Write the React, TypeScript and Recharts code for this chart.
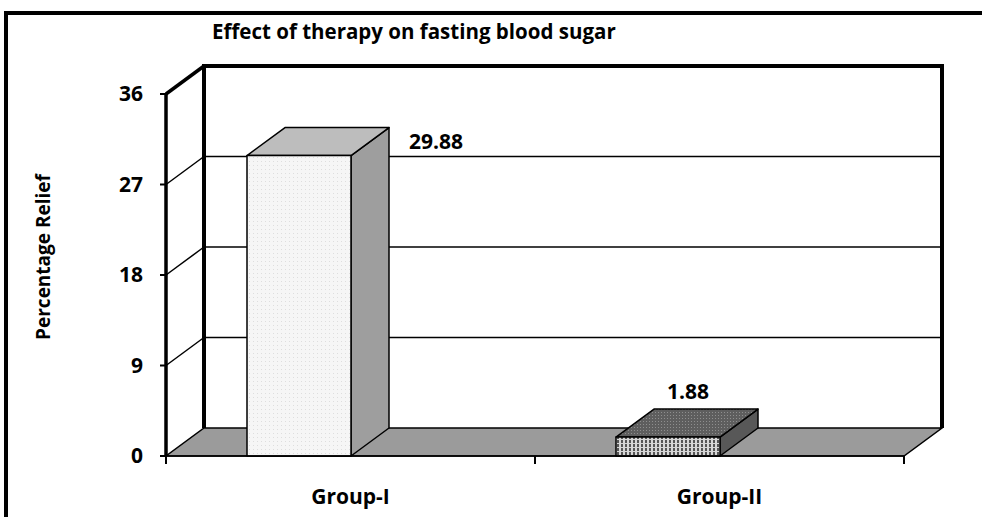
import { Bar, BarChart, CartesianGrid, LabelList, XAxis, YAxis } from "recharts";

const groups = ["Group-I", "Group-II"];
const relief = [29.88, 1.88];
const yTicks = [0, 9, 18, 27, 36];

const data = groups.map((g, i) => ({ group: g, relief: relief[i] }));

// 3D look: depth offset of the back wall / bar tops
const DX = 38;
const DY = -28;
const BAR_SHIFT = -52;
const FONT = "'Open Sans', Lato, sans-serif";

const labelOffsets = [
    { dx: 189, dy: -15 },
    { dx: 72, dy: -46 },
];

const barFaces = [
    { front: "url(#dotsLight)", top: "#bdbdbd", side: "#9e9e9e" },
    { front: "url(#stripesDark)", top: "url(#dotsDark)", side: "#585858" },
];

function Patterns() {
    return (
        <defs>
            <pattern id="dotsLight" width="4" height="4" patternUnits="userSpaceOnUse">
                <rect width="4" height="4" fill="#f6f6f6" />
                <rect x="1" y="1" width="1" height="1" fill="#dedede" />
            </pattern>
            <pattern id="stripesDark" width="4" height="4" patternUnits="userSpaceOnUse">
                <rect width="4" height="4" fill="#d6d6d6" />
                <rect x="1" y="0" width="2" height="3" fill="#555" />
            </pattern>
            <pattern id="dotsDark" width="3" height="3" patternUnits="userSpaceOnUse">
                <rect width="3" height="3" fill="#5e5e5e" />
                <rect x="1" y="1" width="1" height="1" fill="#8e8e8e" />
            </pattern>
        </defs>
    );
}

function WallLine(p: any) {
    const { x1, y1, x2, y, height } = p;
    const bottom = y + height;
    const isTop = Math.abs(y1 - y) < 0.5;
    const isBottom = Math.abs(y1 - bottom) < 0.5;
    if (isBottom) {
        const mid = (x1 + x2) / 2;
        return (
            <g key={p.key}>
                <Patterns />
                <polygon
                    points={`${x1},${y1} ${x2},${y1} ${x2 + DX},${y1 + DY} ${x1 + DX},${y1 + DY}`}
                    fill="#9b9b9b"
                    stroke="#000"
                    strokeWidth={1.5}
                />
                {[x1, mid, x2].map((tx) => (
                    <line key={tx} x1={tx} y1={y1} x2={tx} y2={y1 + 8} stroke="#000" strokeWidth={2} />
                ))}
            </g>
        );
    }
    if (isTop) {
        return (
            <g key={p.key} fill="none" stroke="#000">
                <line x1={x1} y1={y1} x2={x1 + DX} y2={y1 + DY} strokeWidth={3.5} />
                <path
                    d={`M${x1 + DX},${bottom + DY} V${y1 + DY} H${x2 + DX} V${bottom + DY}`}
                    strokeWidth={4}
                />
            </g>
        );
    }
    return (
        <g key={p.key} fill="none" stroke="#000" strokeWidth={1.5}>
            <line x1={x1} y1={y1} x2={x1 + DX} y2={y1 + DY} />
            <line x1={x1 + DX} y1={y1 + DY} x2={x2 + DX} y2={y1 + DY} />
        </g>
    );
}

function Bar3D(p: any) {
    const { x, y, width, height, index } = p;
    const fx = x + BAR_SHIFT;
    const f = barFaces[index];
    const r = fx + width;
    return (
        <g stroke="#000" strokeWidth={1.5} strokeLinejoin="round">
            <polygon
                points={`${r},${y} ${r + DX},${y + DY} ${r + DX},${y + height + DY} ${r},${y + height}`}
                fill={f.side}
            />
            <polygon
                points={`${fx},${y} ${fx + DX},${y + DY} ${r + DX},${y + DY} ${r},${y}`}
                fill={f.top}
            />
            <rect x={fx} y={y} width={width} height={height} fill={f.front} />
        </g>
    );
}

function ValueLabel(p: any) {
    const vb = p.viewBox ?? p;
    const x = vb.x ?? p.x;
    const y = vb.y ?? p.y;
    const o = labelOffsets[p.index];
    return (
        <text
            x={x + BAR_SHIFT + o.dx}
            y={y + o.dy}
            textAnchor="middle"
            dominantBaseline="central"
            fontFamily={FONT}
            fontWeight={700}
            fontSize={21}
            fill="#000"
        >
            {p.value}
        </text>
    );
}

export default function App() {
    return (
        <div
            style={{
                position: "absolute",
                left: 0,
                top: 0,
                width: 982,
                height: 517,
                overflow: "hidden",
                background: "#fff",
                fontFamily: FONT,
            }}
        >
            <div
                style={{
                    position: "absolute",
                    left: 4,
                    top: 11,
                    width: 1100,
                    height: 700,
                    border: "4px solid #000",
                    boxSizing: "border-box",
                }}
            />
            <div
                style={{
                    position: "absolute",
                    left: 212,
                    top: 17,
                    fontSize: 20.5,
                    fontWeight: 700,
                    whiteSpace: "nowrap",
                }}
            >
                Effect of therapy on fasting blood sugar
            </div>
            <div
                style={{
                    position: "absolute",
                    left: 43,
                    top: 257,
                    transform: "translate(-50%, -50%) rotate(-90deg)",
                    fontSize: 19,
                    fontWeight: 700,
                    whiteSpace: "nowrap",
                }}
            >
                Percentage Relief
            </div>
            <div style={{ position: "absolute", left: 0, top: 0 }}>
                <BarChart
                    width={982}
                    height={517}
                    data={data}
                    margin={{ top: 94, right: 78, bottom: 31, left: 0 }}
                    barSize={104}
                >
                    <CartesianGrid vertical={false} horizontal={WallLine} />
                    <XAxis
                        dataKey="group"
                        height={30}
                        tickLine={false}
                        tickSize={0}
                        tickMargin={33}
                        axisLine={{ stroke: "#000", strokeWidth: 1.5 }}
                        tick={{ fill: "#000", fontFamily: FONT, fontWeight: 700, fontSize: 21 }}
                    />
                    <YAxis
                        width={166}
                        domain={[0, 36]}
                        ticks={yTicks}
                        interval={0}
                        tickSize={6}
                        tickMargin={17}
                        axisLine={{ stroke: "#000", strokeWidth: 3.5 }}
                        tickLine={{ stroke: "#000", strokeWidth: 2 }}
                        tick={{ fill: "#000", fontFamily: FONT, fontWeight: 700, fontSize: 21 }}
                    />
                    <Bar dataKey="relief" shape={Bar3D} isAnimationActive={false}>
                        <LabelList dataKey="relief" content={ValueLabel} />
                    </Bar>
                </BarChart>
            </div>
        </div>
    );
}
